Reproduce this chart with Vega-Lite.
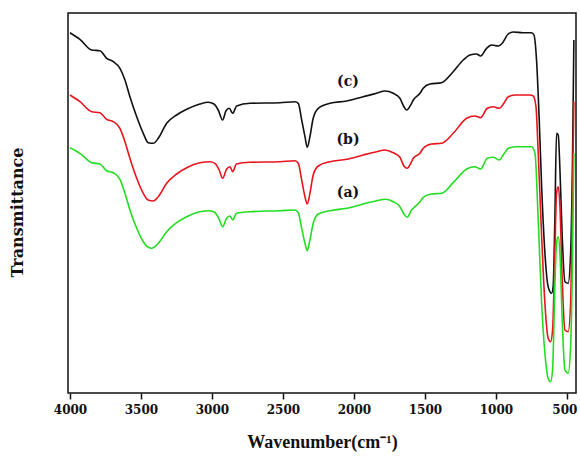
{
  "$schema": "https://vega.github.io/schema/vega-lite/v6.json",
  "width": 508,
  "height": 380,
  "autosize": {"type": "none"},
  "padding": {"left": 68, "top": 13, "right": 4, "bottom": 69},
  "background": "white",
  "config": {
    "view": {"stroke": "#111111", "strokeWidth": 1.5},
    "axis": {"grid": false, "domain": false}
  },
  "datasets": {
    "spectra": [
      {"s":"c","w":4000,"t":360.3},{"s":"c","w":3930,"t":353.7},{"s":"c","w":3847,"t":343},{"s":"c","w":3789,"t":342.3},{"s":"c","w":3742,"t":334.7},{"s":"c","w":3695,"t":331.3},{"s":"c","w":3648,"t":324.7},{"s":"c","w":3613,"t":313},{"s":"c","w":3578,"t":296.3},{"s":"c","w":3530,"t":276.3},{"s":"c","w":3484,"t":259.7},{"s":"c","w":3449,"t":250.3},{"s":"c","w":3413,"t":249.7},{"s":"c","w":3378,"t":254.7},{"s":"c","w":3319,"t":269.7},{"s":"c","w":3249,"t":278},{"s":"c","w":3178,"t":283.7},{"s":"c","w":3085,"t":289},{"s":"c","w":3026,"t":290.7},{"s":"c","w":2986,"t":289},{"s":"c","w":2956,"t":283},{"s":"c","w":2925,"t":273},{"s":"c","w":2901,"t":282.3},{"s":"c","w":2878,"t":284.7},{"s":"c","w":2854,"t":279.7},{"s":"c","w":2826,"t":287},{"s":"c","w":2732,"t":289.7},{"s":"c","w":2521,"t":290.3},{"s":"c","w":2416,"t":291.3},{"s":"c","w":2392,"t":289.7},{"s":"c","w":2368,"t":273},{"s":"c","w":2345,"t":256.3},{"s":"c","w":2329,"t":245.7},{"s":"c","w":2310,"t":256.3},{"s":"c","w":2287,"t":274.7},{"s":"c","w":2251,"t":284.7},{"s":"c","w":2169,"t":289.7},{"s":"c","w":2051,"t":292},{"s":"c","w":1935,"t":296.3},{"s":"c","w":1840,"t":299.7},{"s":"c","w":1782,"t":302},{"s":"c","w":1723,"t":299.7},{"s":"c","w":1676,"t":294.7},{"s":"c","w":1648,"t":286.3},{"s":"c","w":1629,"t":283},{"s":"c","w":1594,"t":289.7},{"s":"c","w":1582,"t":293},{"s":"c","w":1535,"t":299.7},{"s":"c","w":1512,"t":304.7},{"s":"c","w":1465,"t":309},{"s":"c","w":1383,"t":310.3},{"s":"c","w":1301,"t":321.3},{"s":"c","w":1230,"t":333},{"s":"c","w":1183,"t":338},{"s":"c","w":1136,"t":339},{"s":"c","w":1108,"t":337},{"s":"c","w":1066,"t":344.7},{"s":"c","w":1030,"t":348},{"s":"c","w":984,"t":347},{"s":"c","w":960,"t":349},{"s":"c","w":913,"t":359},{"s":"c","w":878,"t":361},{"s":"c","w":808,"t":360.3},{"s":"c","w":749,"t":360.3},{"s":"c","w":732,"t":358},{"s":"c","w":714,"t":333},{"s":"c","w":695,"t":273},{"s":"c","w":678,"t":206.3},{"s":"c","w":655,"t":140},{"s":"c","w":632,"t":106.3},{"s":"c","w":608,"t":99.7},{"s":"c","w":597,"t":106.3},{"s":"c","w":585,"t":173},{"s":"c","w":573,"t":259.7},{"s":"c","w":561,"t":258},{"s":"c","w":549,"t":223},{"s":"c","w":533,"t":156.3},{"s":"c","w":514,"t":111.3},{"s":"c","w":491,"t":109.7},{"s":"c","w":474,"t":139.7},{"s":"c","w":460,"t":239.7},{"s":"c","w":451,"t":353},

      {"s":"b","w":4000,"t":298},{"s":"b","w":3930,"t":291.3},{"s":"b","w":3847,"t":281.3},{"s":"b","w":3789,"t":280.3},{"s":"b","w":3742,"t":273.7},{"s":"b","w":3695,"t":271.3},{"s":"b","w":3648,"t":264.7},{"s":"b","w":3613,"t":251.3},{"s":"b","w":3578,"t":234.7},{"s":"b","w":3530,"t":214.7},{"s":"b","w":3484,"t":199.7},{"s":"b","w":3449,"t":193},{"s":"b","w":3413,"t":192},{"s":"b","w":3378,"t":196.3},{"s":"b","w":3319,"t":209.7},{"s":"b","w":3249,"t":219},{"s":"b","w":3178,"t":225.3},{"s":"b","w":3085,"t":230.3},{"s":"b","w":3014,"t":231.3},{"s":"b","w":2979,"t":229.7},{"s":"b","w":2949,"t":223},{"s":"b","w":2925,"t":214.7},{"s":"b","w":2897,"t":223.7},{"s":"b","w":2873,"t":226.3},{"s":"b","w":2854,"t":221.3},{"s":"b","w":2827,"t":229},{"s":"b","w":2732,"t":230.7},{"s":"b","w":2521,"t":231.3},{"s":"b","w":2416,"t":232.3},{"s":"b","w":2392,"t":229.7},{"s":"b","w":2368,"t":213},{"s":"b","w":2345,"t":196.3},{"s":"b","w":2329,"t":189},{"s":"b","w":2310,"t":199.7},{"s":"b","w":2287,"t":218},{"s":"b","w":2251,"t":227},{"s":"b","w":2169,"t":231.3},{"s":"b","w":2051,"t":233.7},{"s":"b","w":1935,"t":238},{"s":"b","w":1840,"t":241.3},{"s":"b","w":1782,"t":243},{"s":"b","w":1723,"t":240.3},{"s":"b","w":1676,"t":235.7},{"s":"b","w":1648,"t":227},{"s":"b","w":1625,"t":224.7},{"s":"b","w":1594,"t":231.3},{"s":"b","w":1582,"t":234.7},{"s":"b","w":1535,"t":239.7},{"s":"b","w":1512,"t":244.7},{"s":"b","w":1453,"t":249},{"s":"b","w":1382,"t":249.7},{"s":"b","w":1301,"t":259.7},{"s":"b","w":1206,"t":274.7},{"s":"b","w":1148,"t":277},{"s":"b","w":1108,"t":275.3},{"s":"b","w":1061,"t":284.7},{"s":"b","w":1019,"t":286.3},{"s":"b","w":977,"t":284.7},{"s":"b","w":944,"t":289.7},{"s":"b","w":913,"t":296.3},{"s":"b","w":866,"t":298},{"s":"b","w":761,"t":298},{"s":"b","w":737,"t":297},{"s":"b","w":718,"t":286.3},{"s":"b","w":702,"t":239.7},{"s":"b","w":678,"t":156.3},{"s":"b","w":655,"t":89.7},{"s":"b","w":632,"t":54.7},{"s":"b","w":615,"t":51.3},{"s":"b","w":601,"t":63},{"s":"b","w":585,"t":139.7},{"s":"b","w":573,"t":199.7},{"s":"b","w":561,"t":206.3},{"s":"b","w":549,"t":186.3},{"s":"b","w":533,"t":113},{"s":"b","w":514,"t":63},{"s":"b","w":491,"t":61.3},{"s":"b","w":474,"t":89.7},{"s":"b","w":460,"t":206.3},{"s":"b","w":451,"t":291.3},

      {"s":"a","w":4000,"t":245.3},{"s":"a","w":3930,"t":239.7},{"s":"a","w":3847,"t":230.3},{"s":"a","w":3789,"t":229},{"s":"a","w":3742,"t":222.3},{"s":"a","w":3695,"t":220.3},{"s":"a","w":3648,"t":213.7},{"s":"a","w":3613,"t":199.7},{"s":"a","w":3578,"t":183},{"s":"a","w":3530,"t":164.7},{"s":"a","w":3484,"t":151.3},{"s":"a","w":3449,"t":145.7},{"s":"a","w":3425,"t":144.7},{"s":"a","w":3378,"t":149.7},{"s":"a","w":3319,"t":161.3},{"s":"a","w":3249,"t":170.3},{"s":"a","w":3178,"t":176.3},{"s":"a","w":3085,"t":181.3},{"s":"a","w":3014,"t":182.3},{"s":"a","w":2979,"t":180.3},{"s":"a","w":2949,"t":173.7},{"s":"a","w":2925,"t":166.3},{"s":"a","w":2897,"t":174.7},{"s":"a","w":2873,"t":177},{"s":"a","w":2854,"t":173},{"s":"a","w":2827,"t":179.7},{"s":"a","w":2732,"t":181.3},{"s":"a","w":2521,"t":182.3},{"s":"a","w":2416,"t":183},{"s":"a","w":2392,"t":180.3},{"s":"a","w":2368,"t":164.7},{"s":"a","w":2345,"t":149.7},{"s":"a","w":2329,"t":142.3},{"s":"a","w":2310,"t":153},{"s":"a","w":2287,"t":169.7},{"s":"a","w":2251,"t":179},{"s":"a","w":2169,"t":182.3},{"s":"a","w":2051,"t":184.7},{"s":"a","w":1935,"t":189},{"s":"a","w":1840,"t":192.3},{"s":"a","w":1782,"t":193.7},{"s":"a","w":1723,"t":191.3},{"s":"a","w":1676,"t":186.3},{"s":"a","w":1648,"t":179},{"s":"a","w":1625,"t":175.7},{"s":"a","w":1594,"t":183},{"s":"a","w":1582,"t":184.7},{"s":"a","w":1535,"t":191.3},{"s":"a","w":1512,"t":195.7},{"s":"a","w":1453,"t":199},{"s":"a","w":1382,"t":199.7},{"s":"a","w":1301,"t":210.3},{"s":"a","w":1206,"t":224},{"s":"a","w":1148,"t":226.3},{"s":"a","w":1108,"t":224},{"s":"a","w":1061,"t":234.7},{"s":"a","w":1019,"t":235.7},{"s":"a","w":977,"t":233},{"s":"a","w":944,"t":239},{"s":"a","w":913,"t":244.7},{"s":"a","w":866,"t":246.3},{"s":"a","w":749,"t":246.3},{"s":"a","w":725,"t":239.7},{"s":"a","w":702,"t":173},{"s":"a","w":678,"t":89.7},{"s":"a","w":655,"t":39.7},{"s":"a","w":632,"t":14.7},{"s":"a","w":615,"t":11.3},{"s":"a","w":601,"t":23},{"s":"a","w":585,"t":106.3},{"s":"a","w":573,"t":149.7},{"s":"a","w":561,"t":156.3},{"s":"a","w":549,"t":139.7},{"s":"a","w":533,"t":73},{"s":"a","w":514,"t":23},{"s":"a","w":491,"t":19.7},{"s":"a","w":474,"t":46.3},{"s":"a","w":460,"t":139.7},{"s":"a","w":451,"t":239.7}
    ],
    "labels": [
      {"s":"c","w":2042,"t":311,"label":"(c)"},
      {"s":"b","w":2042,"t":253,"label":"(b)"},
      {"s":"a","w":2042,"t":200,"label":"(a)"}
    ]
  },
  "layer": [
    {
      "data": {"name": "spectra"},
      "mark": {"type": "line", "strokeWidth": 1.6, "interpolate": "monotone"},
      "encoding": {
        "x": {
          "field": "w", "type": "quantitative",
          "scale": {"domain": [4014, 436], "nice": false, "zero": false},
          "axis": {
            "title": "Wavenumber(cm⁻¹)",
            "values": [4000,3750,3500,3250,3000,2750,2500,2250,2000,1750,1500,1250,1000,750,500],
            "format": "d",
            "labelExpr": "datum.value % 500 === 0 ? datum.label : ''",
            "tickSize": {"condition": {"test": "datum.value % 500 === 0", "value": 6}, "value": 3},
            "tickColor": "#111111",
            "tickWidth": 1.5,
            "labelFont": "DejaVu Serif",
            "labelFontSize": 12,
            "labelFontWeight": "bold",
            "labelColor": "#111111",
            "labelPadding": 5,
            "labelFlush": false,
            "labelOverlap": false,
            "labelAlign": {"condition": {"test": "datum.value === 500", "value": "right"}, "value": "center"},
            "labelOffset": {"condition": {"test": "datum.value === 500", "value": 10}, "value": 0},
            "titleFont": "Liberation Serif",
            "titleFontSize": 18,
            "titleFontWeight": "bold",
            "titleColor": "#111111",
            "titlePadding": 18
          }
        },
        "y": {
          "field": "t", "type": "quantitative",
          "scale": {"domain": [0, 380], "nice": false},
          "axis": {
            "title": "Transmittance",
            "labels": false,
            "ticks": false,
            "titleFont": "DejaVu Serif",
            "titleFontSize": 16,
            "titleFontWeight": "bold",
            "titleColor": "#111111",
            "titleX": -43,
            "titleY": 199,
            "titleAngle": -90,
            "titleBaseline": "bottom",
            "titleAlign": "center"
          }
        },
        "color": {
          "field": "s", "type": "nominal",
          "scale": {"domain": ["c","b","a"], "range": ["#111111","#e8141c","#22dd22"]},
          "legend": null
        },
        "detail": {"field": "s"}
      }
    },
    {
      "data": {"name": "labels"},
      "mark": {"type": "text", "font": "DejaVu Serif", "fontSize": 14, "fontWeight": "bold", "color": "#111111"},
      "encoding": {
        "x": {"field": "w", "type": "quantitative"},
        "y": {"field": "t", "type": "quantitative"},
        "text": {"field": "label"}
      }
    }
  ]
}
